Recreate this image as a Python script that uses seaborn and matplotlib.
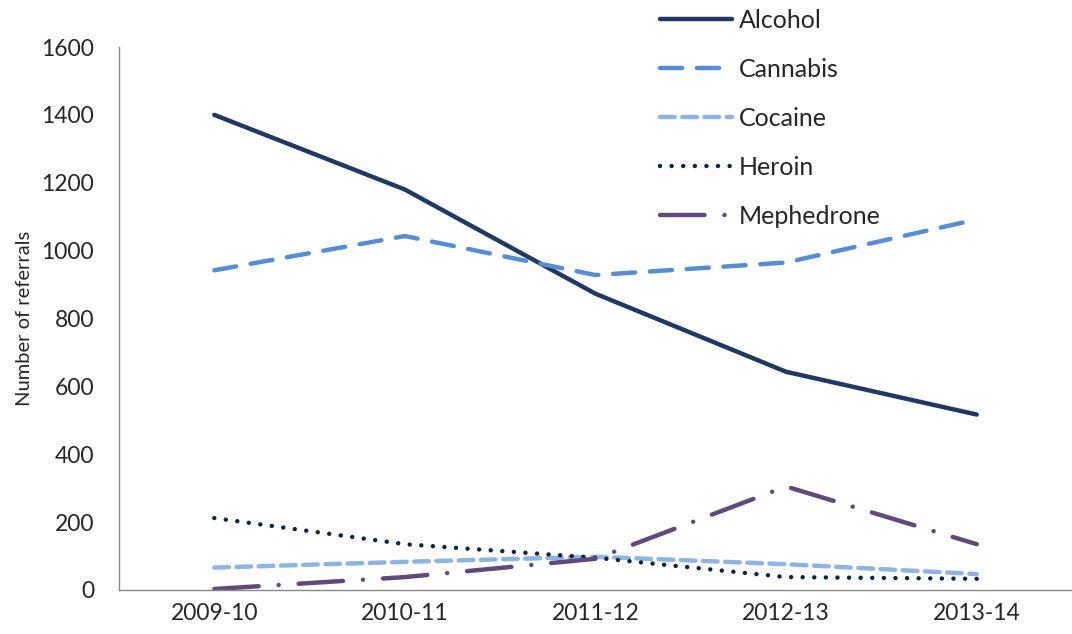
import matplotlib
matplotlib.use("Agg")
import matplotlib.pyplot as plt
import seaborn as sns
import pandas as pd
import numpy as np

years = ["2009-10", "2010-11", "2011-12", "2012-13", "2013-14"]
alcohol = [1400, 1180, 873, 643, 517]
cannabis = [942, 1043, 928, 965, 1092]
cocaine = [66, 83, 98, 76, 47]
heroin = [212, 135, 95, 38, 33]
mephedrone = [3, 38, 92, 305, 135]

series = {
    "Alcohol": alcohol,
    "Cannabis": cannabis,
    "Cocaine": cocaine,
    "Heroin": heroin,
    "Mephedrone": mephedrone,
}
colors = {
    "Alcohol": "#1F3864",
    "Cannabis": "#558ED5",
    "Cocaine": "#8EB4E3",
    "Heroin": "#0F243E",
    "Mephedrone": "#604A7B",
}
styles = {
    "Alcohol": dict(linestyle="-", linewidth=3.2),
    "Cannabis": dict(linestyle=(0, (5.0, 3.3)), linewidth=3.2),
    "Cocaine": dict(linestyle=(0, (3.3, 1.7)), linewidth=3.2),
    "Heroin": dict(linestyle=(0, (0.01, 2.6)), linewidth=3.2),
    "Mephedrone": dict(linestyle=(0, (10, 4.5, 0.01, 4.5)), linewidth=3.2),
}

sns.set_theme(style="white")
plt.rcParams["font.family"] = ["Lato", "DejaVu Sans"]

fig = plt.figure(figsize=(10.72, 6.34), dpi=100)
ax = fig.add_axes([119 / 1072, 1 - 590 / 634, 1 - 119 / 1072, (590 - 47) / 634])

x = np.arange(len(years))
for name, vals in series.items():
    df = pd.DataFrame({"x": x, "y": vals})
    sns.lineplot(data=df, x="x", y="y", ax=ax, color=colors[name], label=name,
                 dash_capstyle="round", solid_capstyle="round", **styles[name])

ax.set_xlim(-0.5, 4.45)
ax.set_ylim(0, 1600)
ax.set_yticks(range(0, 1601, 200))
ax.set_yticklabels([str(v) for v in range(0, 1601, 200)], fontsize=16.5)
ax.set_xticks(x)
ax.set_xticklabels(years, fontsize=16.5)
ax.set_xticks(np.arange(-0.5, 4.6, 1), minor=True)
ax.tick_params(axis="x", which="major", length=0, pad=9)
ax.tick_params(axis="x", which="minor", length=6, color="#888888", width=1, direction="out")
ax.tick_params(axis="y", length=6, color="#888888", width=1, direction="out", pad=12)
ax.set_xlabel("")
ax.set_ylabel("Number of referrals", fontsize=14.5, labelpad=6)
for s in ["top", "right"]:
    ax.spines[s].set_visible(False)
for s in ["left", "bottom"]:
    ax.spines[s].set_color("#888888")
    ax.spines[s].set_linewidth(1)

leg = ax.legend(loc="upper left", bbox_to_anchor=(660 / 1072, 1 - 9 / 634),
                bbox_transform=fig.transFigure, frameon=False, borderpad=0,
                borderaxespad=0, fontsize=18, handlelength=2.9,
                labelspacing=1.04, handletextpad=0.25)
for line in leg.get_lines():
    line.set_dash_capstyle("round")

fig.savefig("out.png", dpi=100)
